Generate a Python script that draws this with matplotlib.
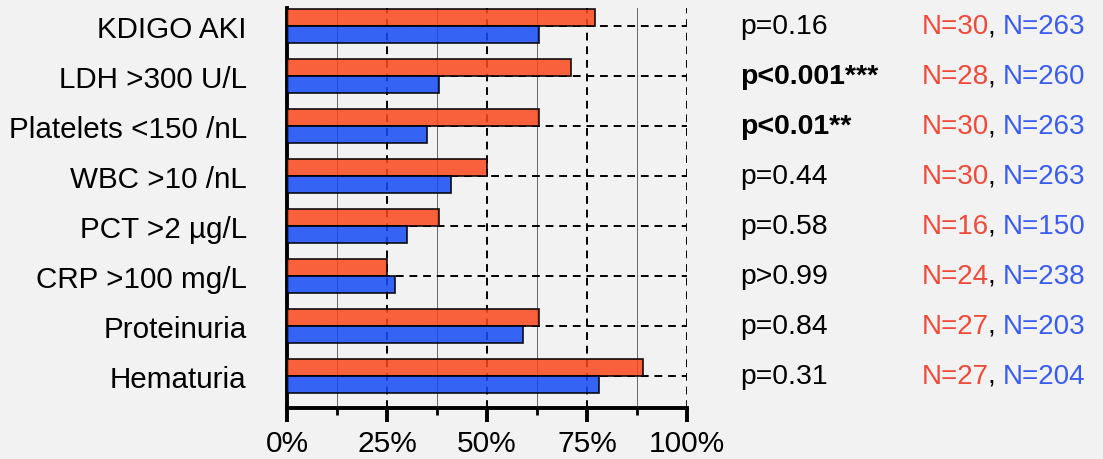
"""
horizontal paired barplot with p-values and group sizes
"""

import matplotlib.pyplot as plt
from matplotlib.transforms import blended_transform_factory
from matplotlib.ticker import MultipleLocator, FuncFormatter

categories = ["KDIGO AKI", "LDH >300 U/L", "Platelets <150 /nL", "WBC >10 /nL",
              "PCT >2 \u00b5g/L", "CRP >100 mg/L", "Proteinuria", "Hematuria"]
group_a = [77, 71, 63, 50, 38, 25, 63, 89]   # orange
group_b = [63, 38, 35, 41, 30, 27, 59, 78]   # blue
p_labels = ["p=0.16", "p<0.001***", "p<0.01**", "p=0.44",
            "p=0.58", "p>0.99", "p=0.84", "p=0.31"]
p_bold = [False, True, True, False, False, False, False, False]
n_a = [30, 28, 30, 30, 16, 24, 27, 27]
n_b = [263, 260, 263, 263, 150, 238, 203, 204]

orange = "#fb481c"
blue = "#144af5"
n_red = "#f04a3a"
n_blue = "#3a5cf2"
bg = "#f2f2f2"

if __name__ == '__main__':
    plt.rcParams['font.family'] = ['Liberation Sans', 'DejaVu Sans']

    fig, ax = plt.subplots()
    fig.set_size_inches(11.03, 4.6)
    fig.patch.set_facecolor(bg)
    ax.set_facecolor(bg)
    fig.subplots_adjust(left=0.2602, right=0.6228, bottom=0.1109, top=0.9804)

    h = 0.34
    rows = range(len(categories))
    y_a = [i + h / 2 + 0.02 for i in rows]
    y_b = [i + 1.5 * h + 0.02 for i in rows]
    y_mid = [i + h + 0.02 for i in rows]

    # bars are slightly see-through so the grid shows on them
    ax.barh(y_a, group_a, height=h, color=orange, alpha=0.85,
            edgecolor="black", linewidth=1.3, zorder=3)
    ax.barh(y_b, group_b, height=h, color=blue, alpha=0.85,
            edgecolor="black", linewidth=1.3, zorder=3)

    # grid: dashed majors, thin minors, dashed row lines
    for x in [25, 50, 75, 100]:
        ax.axvline(x, color="black", lw=1.4, ls=(0, (4, 3)), zorder=1)
    for x in [12.5, 37.5, 62.5, 87.5]:
        ax.axvline(x, color="#666666", lw=0.7, zorder=1)
    for y in y_mid:
        ax.axhline(y, color="black", lw=1.4, ls=(0, (4, 3)), zorder=1)

    ax.set_xlim(0, 100)
    ax.set_ylim(len(categories), 0)
    ax.set_yticks(y_mid)
    ax.set_yticklabels(categories, fontsize=21.3)
    ax.tick_params(axis="y", length=0, pad=29)

    ax.xaxis.set_major_locator(MultipleLocator(25))
    ax.xaxis.set_minor_locator(MultipleLocator(12.5))
    ax.xaxis.set_major_formatter(FuncFormatter(lambda v, _: f"{v:.0f}%"))
    ax.tick_params(axis="x", which="major", length=10, width=2.8, labelsize=21.5, pad=5)
    ax.tick_params(axis="x", which="minor", length=5, width=2.0)

    for s in ["top", "right"]:
        ax.spines[s].set_visible(False)
    for s in ["left", "bottom"]:
        ax.spines[s].set_linewidth(2.8)

    trans = blended_transform_factory(fig.transFigure, ax.transData)
    for i, y in enumerate(y_mid):
        ax.text(0.671, y, p_labels[i], transform=trans, fontsize=20.4,
                fontweight="bold" if p_bold[i] else "normal",
                ha="left", va="center", clip_on=False)
        tb = ax.text(0.9837, y, f"N={n_b[i]}", transform=trans, fontsize=20,
                     color=n_blue, ha="right", va="center", clip_on=False)
        tc = ax.annotate(",", xy=(0, 0), xycoords=tb, fontsize=20,
                         color="black", ha="right", va="bottom",
                         xytext=(-7, 0), textcoords="offset pixels")
        ax.annotate(f"N={n_a[i]}", xy=(0, 0), xycoords=tc, fontsize=20,
                    color=n_red, ha="right", va="bottom",
                    xytext=(1, 0), textcoords="offset pixels")

    fig.savefig("out.png", dpi=100, facecolor=bg)
